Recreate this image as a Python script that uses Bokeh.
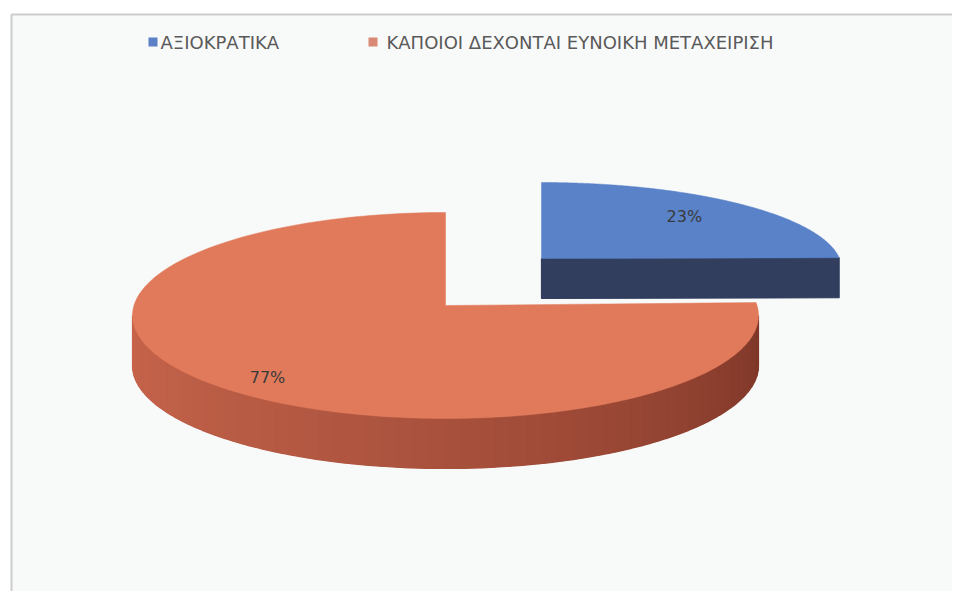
import numpy as np
from bokeh.plotting import figure
from bokeh.models import Range1d
from bokeh.embed import file_html
from bokeh.resources import INLINE
from bokeh.core.properties import value

# ---- data ----
categories = ["ΑΞΙΟΚΡΑΤΙΚΑ", "ΚΑΠΟΙΟΙ ΔΕΧΟΝΤΑΙ ΕΥΝΟΙΚΗ ΜΕΤΑΧΕΙΡΙΣΗ"]
percentages = [23, 77]
pct_labels = ["23%", "77%"]

# ---- styles ----
top_colors = ["#5982c8", "#e17a5b"]
legend_colors = ["#5b80c6", "#d98a76"]
side_light = ["#313e5e", "#c6644b"]
side_dark = ["#2a3552", "#7c3527"]

# 3D geometry per slice (screen-like units): ellipse centre, radii, apex lift, depth,
# and relative label radius
geom = [dict(cx=541, cy=268, rx=300, ry=86, lift=10, depth=40, lab=(0.72, 0.8)),
        dict(cx=445, cy=315, rx=313, ry=103, lift=10, depth=50, lab=(0.86, 0.8))]

W, H = 952, 591
p = figure(width=W, height=H, x_range=Range1d(0, W), y_range=Range1d(H, 0),
           x_axis_type=None, y_axis_type=None, toolbar_location=None,
           output_backend="svg", min_border=0, outline_line_color=None,
           background_fill_color="white", border_fill_color="white")
p.grid.visible = False

# chart frame
p.quad(left=[11], right=[1000], top=[14], bottom=[650], fill_color="#f8f9f9",
       line_color="#cdcdcd", line_width=2)

total = float(sum(percentages))
ends = np.cumsum(percentages) / total * 2 * np.pi
starts = np.concatenate([[0.0], ends[:-1]])


def arc_pt(g, th, fx=1.0, fy=1.0):
    return g["cx"] + g["rx"] * fx * np.sin(th), g["cy"] - g["ry"] * fy * np.cos(th)


def hex2rgb(h):
    h = h.lstrip("#")
    return np.array([int(h[i:i + 2], 16) for i in (0, 2, 4)], dtype=float)


def lerp_col(c1, c2, t):
    c = hex2rgb(c1) * (1 - t) + hex2rgb(c2) * t
    return "#%02x%02x%02x" % tuple(int(round(v)) for v in c)


# draw back slice (blue, index 0) first, then the front slice (red)
for i in [0, 1]:
    g = geom[i]
    s, e = starts[i], ends[i]
    ax, ay = g["cx"], g["cy"] - g["lift"]
    d = g["depth"]
    side_xs, side_ys, side_cols = [], [], []

    # radial faces
    if np.sin(e) > 1e-6:
        ex, ey = arc_pt(g, e)
        side_xs.append([ax, ex, ex, ax])
        side_ys.append([ay, ey, ey + d, ay + d])
        side_cols.append(side_light[i])
    if np.sin(s) < -1e-6:
        sx, sy = arc_pt(g, s)
        side_xs.append([ax, sx, sx, ax])
        side_ys.append([ay, sy, sy + d, ay + d])
        side_cols.append(side_light[i])

    # curved front side (angles between 90 and 270 degrees)
    lo, hi = max(s, np.pi / 2), min(e, 3 * np.pi / 2)
    if hi > lo:
        th = np.linspace(lo, hi, 240)
        bx, by = arc_pt(g, th)
        p.patch(x=np.concatenate([bx, bx[::-1]]), y=np.concatenate([by, by[::-1] + d]),
                fill_color=lerp_col(side_light[i], side_dark[i], 0.5), line_color=None)
        n = 60
        th = np.linspace(lo, hi, n + 1)
        for k in range(n):
            seg = np.linspace(th[k], th[k + 1], 5)
            x0, y0 = arc_pt(g, seg)
            side_xs.append(list(np.concatenate([x0, x0[::-1]])))
            side_ys.append(list(np.concatenate([y0, y0[::-1] + d])))
            t = (3 * np.pi / 2 - 0.5 * (th[k] + th[k + 1])) / np.pi
            side_cols.append(lerp_col(side_light[i], side_dark[i], t ** 1.3))
    if side_xs:
        p.patches(xs=side_xs, ys=side_ys, fill_color=side_cols,
                  line_color=side_cols, line_width=1.2)

    # top face
    th = np.linspace(s, e, 200)
    xs, ys = arc_pt(g, th)
    p.patch(x=np.concatenate([[ax], xs]), y=np.concatenate([[ay], ys]),
            fill_color=top_colors[i], line_color=top_colors[i], line_width=0.5)

    # percentage label
    mid = 0.5 * (s + e)
    lx, ly = arc_pt(g, mid, *g["lab"])
    p.text(x=[lx], y=[ly], text=[pct_labels[i]], text_font=value("DejaVu Sans"),
           text_font_size="16px", text_align="center", text_baseline="middle",
           text_color="#3a3a3a")

# legend
p.rect(x=[152.5, 372.5], y=[41.5, 41.5], width=9, height=9,
       fill_color=legend_colors, line_color=None)
p.text(x=[160, 386], y=[42, 42], text=categories, text_font=value("DejaVu Sans"),
       text_font_size="18px", text_align="left", text_baseline="middle",
       text_color="#5a5a5a")

open("out.html", "w").write(file_html(p, INLINE))
